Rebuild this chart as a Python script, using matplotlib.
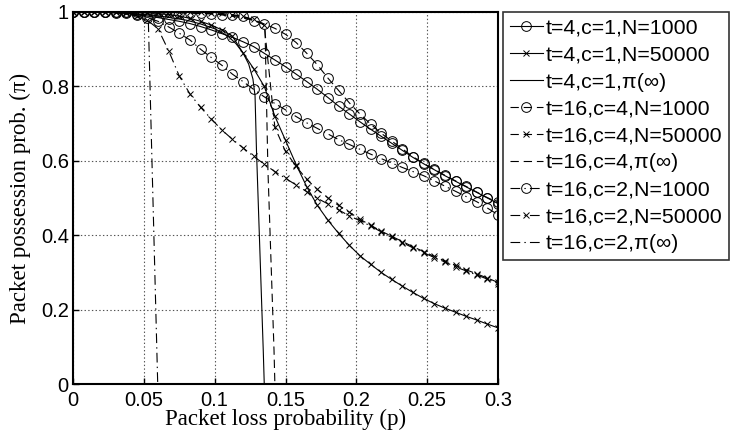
import numpy as np
import matplotlib.pyplot as plt

# simulation grid (41 loss values, step 0.0075)
p_sim = np.linspace(0, 0.3, 41)

t4_n1000 = [1.0, 1.0, 1.0, 0.999, 0.998, 0.996, 0.993, 0.989, 0.985, 0.98,
            0.975, 0.969, 0.961, 0.952, 0.942, 0.932, 0.92, 0.907, 0.889, 0.871,
            0.853, 0.833, 0.813, 0.792, 0.77, 0.747, 0.726, 0.705, 0.685, 0.666,
            0.647, 0.628, 0.609, 0.592, 0.576, 0.56, 0.545, 0.53, 0.515, 0.50, 0.485]
t4_n50000 = [1.0, 1.0, 1.0, 1.0, 1.0, 1.0, 0.999, 0.998, 0.996, 0.993,
             0.989, 0.983, 0.975, 0.965, 0.952, 0.935, 0.89, 0.848, 0.80, 0.72,
             0.655, 0.59, 0.53, 0.48, 0.44, 0.405, 0.373, 0.345, 0.322, 0.30,
             0.281, 0.263, 0.246, 0.23, 0.216, 0.204, 0.193, 0.182, 0.172, 0.161, 0.151]
t16c4_n1000 = [1.0, 1.0, 1.0, 1.0, 1.0, 1.0, 1.0, 1.0, 1.0, 0.999,
               0.998, 0.997, 0.996, 0.995, 0.993, 0.991, 0.988, 0.977, 0.968, 0.956,
               0.94, 0.918, 0.889, 0.858, 0.822, 0.789, 0.756, 0.726, 0.699, 0.674,
               0.653, 0.632, 0.611, 0.593, 0.577, 0.561, 0.546, 0.531, 0.516, 0.501, 0.488]
t16c4_n50000 = [1.0, 1.0, 1.0, 1.0, 1.0, 1.0, 1.0, 1.0, 1.0, 1.0,
                1.0, 1.0, 0.999, 0.998, 0.996, 0.993, 0.988, 0.98, 0.965, 0.69,
                0.625, 0.585, 0.55, 0.523, 0.50, 0.48, 0.462, 0.443, 0.427, 0.411,
                0.397, 0.383, 0.369, 0.356, 0.343, 0.331, 0.319, 0.307, 0.296, 0.285, 0.273]
t16c2_n1000 = [1.0, 1.0, 1.0, 1.0, 1.0, 0.999, 0.995, 0.985, 0.975, 0.96,
               0.943, 0.925, 0.90, 0.878, 0.857, 0.833, 0.813, 0.792, 0.772, 0.754,
               0.737, 0.719, 0.702, 0.687, 0.672, 0.657, 0.644, 0.631, 0.618, 0.606,
               0.594, 0.582, 0.571, 0.56, 0.546, 0.532, 0.518, 0.504, 0.49, 0.473, 0.455]
t16c2_n50000 = [1.0, 1.0, 1.0, 1.0, 1.0, 0.998, 0.99, 0.978, 0.955, 0.896,
                0.828, 0.78, 0.744, 0.713, 0.683, 0.658, 0.635, 0.612, 0.591, 0.571,
                0.553, 0.535, 0.517, 0.499, 0.484, 0.468, 0.452, 0.439, 0.425, 0.409,
                0.394, 0.38, 0.366, 0.353, 0.34, 0.328, 0.315, 0.304, 0.293, 0.282, 0.27]

# analytic limits pi(inf)
p_t4_inf = [0, 0.03, 0.06, 0.08, 0.09, 0.1, 0.105, 0.11, 0.115, 0.12, 0.124, 0.127, 0.1285, 0.1295, 0.1343, 0.135]
t4_inf = [1.0, 0.999, 0.99, 0.978, 0.968, 0.955, 0.945, 0.933, 0.915, 0.89, 0.86, 0.82, 0.775, 0.63, 0.09, 0.0]
p_t16c4_inf = [0, 0.06, 0.08, 0.1, 0.11, 0.12, 0.128, 0.133, 0.1355, 0.1376, 0.1419, 0.1425]
t16c4_inf = [1.0, 1.0, 0.998, 0.995, 0.99, 0.984, 0.977, 0.97, 0.962, 0.575, 0.09, 0.0]
p_t16c2_inf = [0, 0.03, 0.045, 0.052, 0.0532, 0.0598]
t16c2_inf = [1.0, 0.998, 0.99, 0.978, 0.974, 0.0]

labels = ['t=4,c=1,N=1000', 't=4,c=1,N=50000', 't=4,c=1,\u03c0(\u221e)',
          't=16,c=4,N=1000', 't=16,c=4,N=50000', 't=16,c=4,\u03c0(\u221e)',
          't=16,c=2,N=1000', 't=16,c=2,N=50000', 't=16,c=2,\u03c0(\u221e)']

sans = ['Liberation Sans', 'DejaVu Sans']
serif = ['Liberation Serif', 'DejaVu Serif']
plt.rcParams['lines.scale_dashes'] = False

fig = plt.figure(figsize=(7.36, 4.37), dpi=100)
ax = fig.add_axes([73 / 736, 1 - 384 / 437, 425 / 736, 372 / 437])

lw = 0.8
dash = (6, 3.5)
dashdot = (7, 3, 1, 3)
circ = dict(marker='o', markersize=7, markerfacecolor='none', markeredgewidth=0.7)
cross = dict(marker='x', markersize=5, markeredgewidth=0.7)

ax.plot(p_sim, t4_n1000, '-', color='k', lw=lw, label=labels[0], **circ)
ax.plot(p_sim, t4_n50000, '-', color='k', lw=lw, label=labels[1], **cross)
ax.plot(p_t4_inf, t4_inf, '-', color='k', lw=lw, label=labels[2])
ax.plot(p_sim, t16c4_n1000, color='k', lw=lw, dashes=dash, label=labels[3], **circ)
ax.plot(p_sim, t16c4_n50000, color='k', lw=lw, dashes=dash, label=labels[4], **cross)
ax.plot(p_t16c4_inf, t16c4_inf, color='k', lw=lw, dashes=dash, label=labels[5])
ax.plot(p_sim, t16c2_n1000, color='k', lw=lw, dashes=dashdot, label=labels[6], **circ)
ax.plot(p_sim, t16c2_n50000, color='k', lw=lw, dashes=dashdot, label=labels[7], **cross)
ax.plot(p_t16c2_inf, t16c2_inf, color='k', lw=lw, dashes=dashdot, label=labels[8])

ax.set_xlim(0, 0.3)
ax.set_ylim(0, 1)
ax.set_xticks([0, 0.05, 0.1, 0.15, 0.2, 0.25, 0.3])
ax.set_xticklabels(['0', '0.05', '0.1', '0.15', '0.2', '0.25', '0.3'])
ax.set_yticks([0, 0.2, 0.4, 0.6, 0.8, 1])
ax.set_yticklabels(['0', '0.2', '0.4', '0.6', '0.8', '1'])
ax.tick_params(direction='in', length=4, width=1, labelsize=14.5)
ax.tick_params(axis='x', pad=5)
ax.tick_params(axis='y', pad=3)
for lab in ax.get_xticklabels() + ax.get_yticklabels():
    lab.set_family(sans)
ax.grid(True, linestyle=':', color='#555555', linewidth=0.8)
for s in ax.spines.values():
    s.set_linewidth(1.5)

ax.set_xlabel('Packet loss probability (p)', family=serif, fontsize=16.5, labelpad=-1)
ax.set_ylabel('Packet possession prob. (\u03c0)', family=serif, fontsize=16.5, labelpad=7)

leg = fig.legend(loc='upper left', bbox_to_anchor=(503 / 736, 1 - 12 / 437),
                 prop={'family': sans, 'size': 15.4}, numpoints=1,
                 handlelength=1.55, handletextpad=0.1, labelspacing=0.37,
                 borderpad=0.32, borderaxespad=0, fancybox=False)
leg.get_frame().set_edgecolor('k')
leg.get_frame().set_linewidth(1.2)

fig.savefig('out.png', dpi=100)
